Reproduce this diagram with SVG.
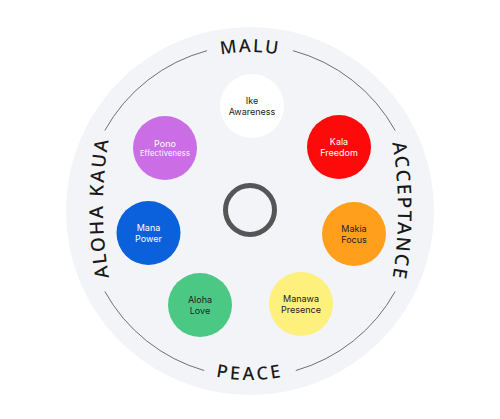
<svg xmlns="http://www.w3.org/2000/svg" width="500" height="419" viewBox="0 0 500 419">
  <style>
    .ring { fill: none; stroke: #707070; stroke-width: 1; }
    .outer { font-family: "Noto Sans", "Liberation Sans", sans-serif; font-size: 18px; font-weight: 500; letter-spacing: 3px; fill: #1a1a1a; }
    .side { font-size: 19px; letter-spacing: 2px; }
    .lbl { font-family: Inter, "Liberation Sans", sans-serif; font-size: 9px; text-anchor: middle; }
    .small { font-size: 7.5px; letter-spacing: 0.2px; }
    .dark { fill: #222; }
    .light { fill: #fff; }
  </style>
  <defs>
    <path id="pTop" d="M 91 211 A 159 159 0 0 1 409 211"/>
    <path id="pBottom" d="M 81 211 A 169 169 0 0 0 419 211"/>
    <path id="pRight" d="M 379.6 91 A 400 400 0 0 1 379.6 331"/>
    <path id="pLeft" d="M 121.4 328 A 400 400 0 0 1 121.4 88"/>
  </defs>
  <rect width="500" height="419" fill="#ffffff"/>
  <circle id="background" cx="250" cy="211" r="184" fill="#f3f4f8"/>
  <g id="connectors">
    <path class="ring" d="M 292.96 50.66 A 166 166 0 0 1 395.18 130.52"/>
    <path class="ring" d="M 395.18 291.48 A 166 166 0 0 1 295.75 370.57"/>
    <path class="ring" d="M 204.25 370.57 A 166 166 0 0 1 104.82 291.48"/>
    <path class="ring" d="M 104.82 130.52 A 166 166 0 0 1 207.04 50.66"/>
  </g>
  <g id="outer-labels">
    <text class="outer" style="letter-spacing:2px"><textPath href="#pTop" startOffset="50%" text-anchor="middle">MALU</textPath></text>
    <text class="outer"><textPath href="#pBottom" startOffset="50%" text-anchor="middle">PEACE</textPath></text>
    <text class="outer side"><textPath href="#pRight" startOffset="50%" text-anchor="middle">ACCEPTANCE</textPath></text>
    <text class="outer side"><textPath href="#pLeft" startOffset="50%" text-anchor="middle">ALOHA KAUA</textPath></text>
  </g>
  <g id="center">
    <circle cx="250" cy="210" r="24.5" fill="none" stroke="#555" stroke-width="5"/>
  </g>
  <g id="ike">
    <circle cx="252" cy="106" r="32" fill="#ffffff"/>
    <text class="lbl dark" x="252" y="104">Ike</text>
    <text class="lbl dark" x="252" y="115">Awareness</text>
  </g>
  <g id="kala">
    <circle cx="339" cy="147" r="32" fill="#fe0a0a"/>
    <text class="lbl light" x="339" y="145">Kala</text>
    <text class="lbl light" x="339" y="156">Freedom</text>
  </g>
  <g id="pono">
    <circle cx="165" cy="148" r="32" fill="#cb6ee6"/>
    <text class="lbl light" x="165" y="147">Pono</text>
    <text class="lbl light small" x="165" y="155.5">Effectiveness</text>
  </g>
  <g id="mana">
    <circle cx="148.5" cy="233" r="32" fill="#0b60db"/>
    <text class="lbl light" x="148.5" y="231">Mana</text>
    <text class="lbl light" x="148.5" y="242">Power</text>
  </g>
  <g id="makia">
    <circle cx="354" cy="234" r="32" fill="#ff9f1c"/>
    <text class="lbl dark" x="354" y="232">Makia</text>
    <text class="lbl dark" x="354" y="243">Focus</text>
  </g>
  <g id="aloha">
    <circle cx="200" cy="305" r="32" fill="#4cc885"/>
    <text class="lbl dark" x="200" y="303">Aloha</text>
    <text class="lbl dark" x="200" y="314">Love</text>
  </g>
  <g id="manawa">
    <circle cx="301" cy="304" r="32" fill="#fdf07c"/>
    <text class="lbl dark" x="301" y="302">Manawa</text>
    <text class="lbl dark" x="301" y="313">Presence</text>
  </g>
</svg>
